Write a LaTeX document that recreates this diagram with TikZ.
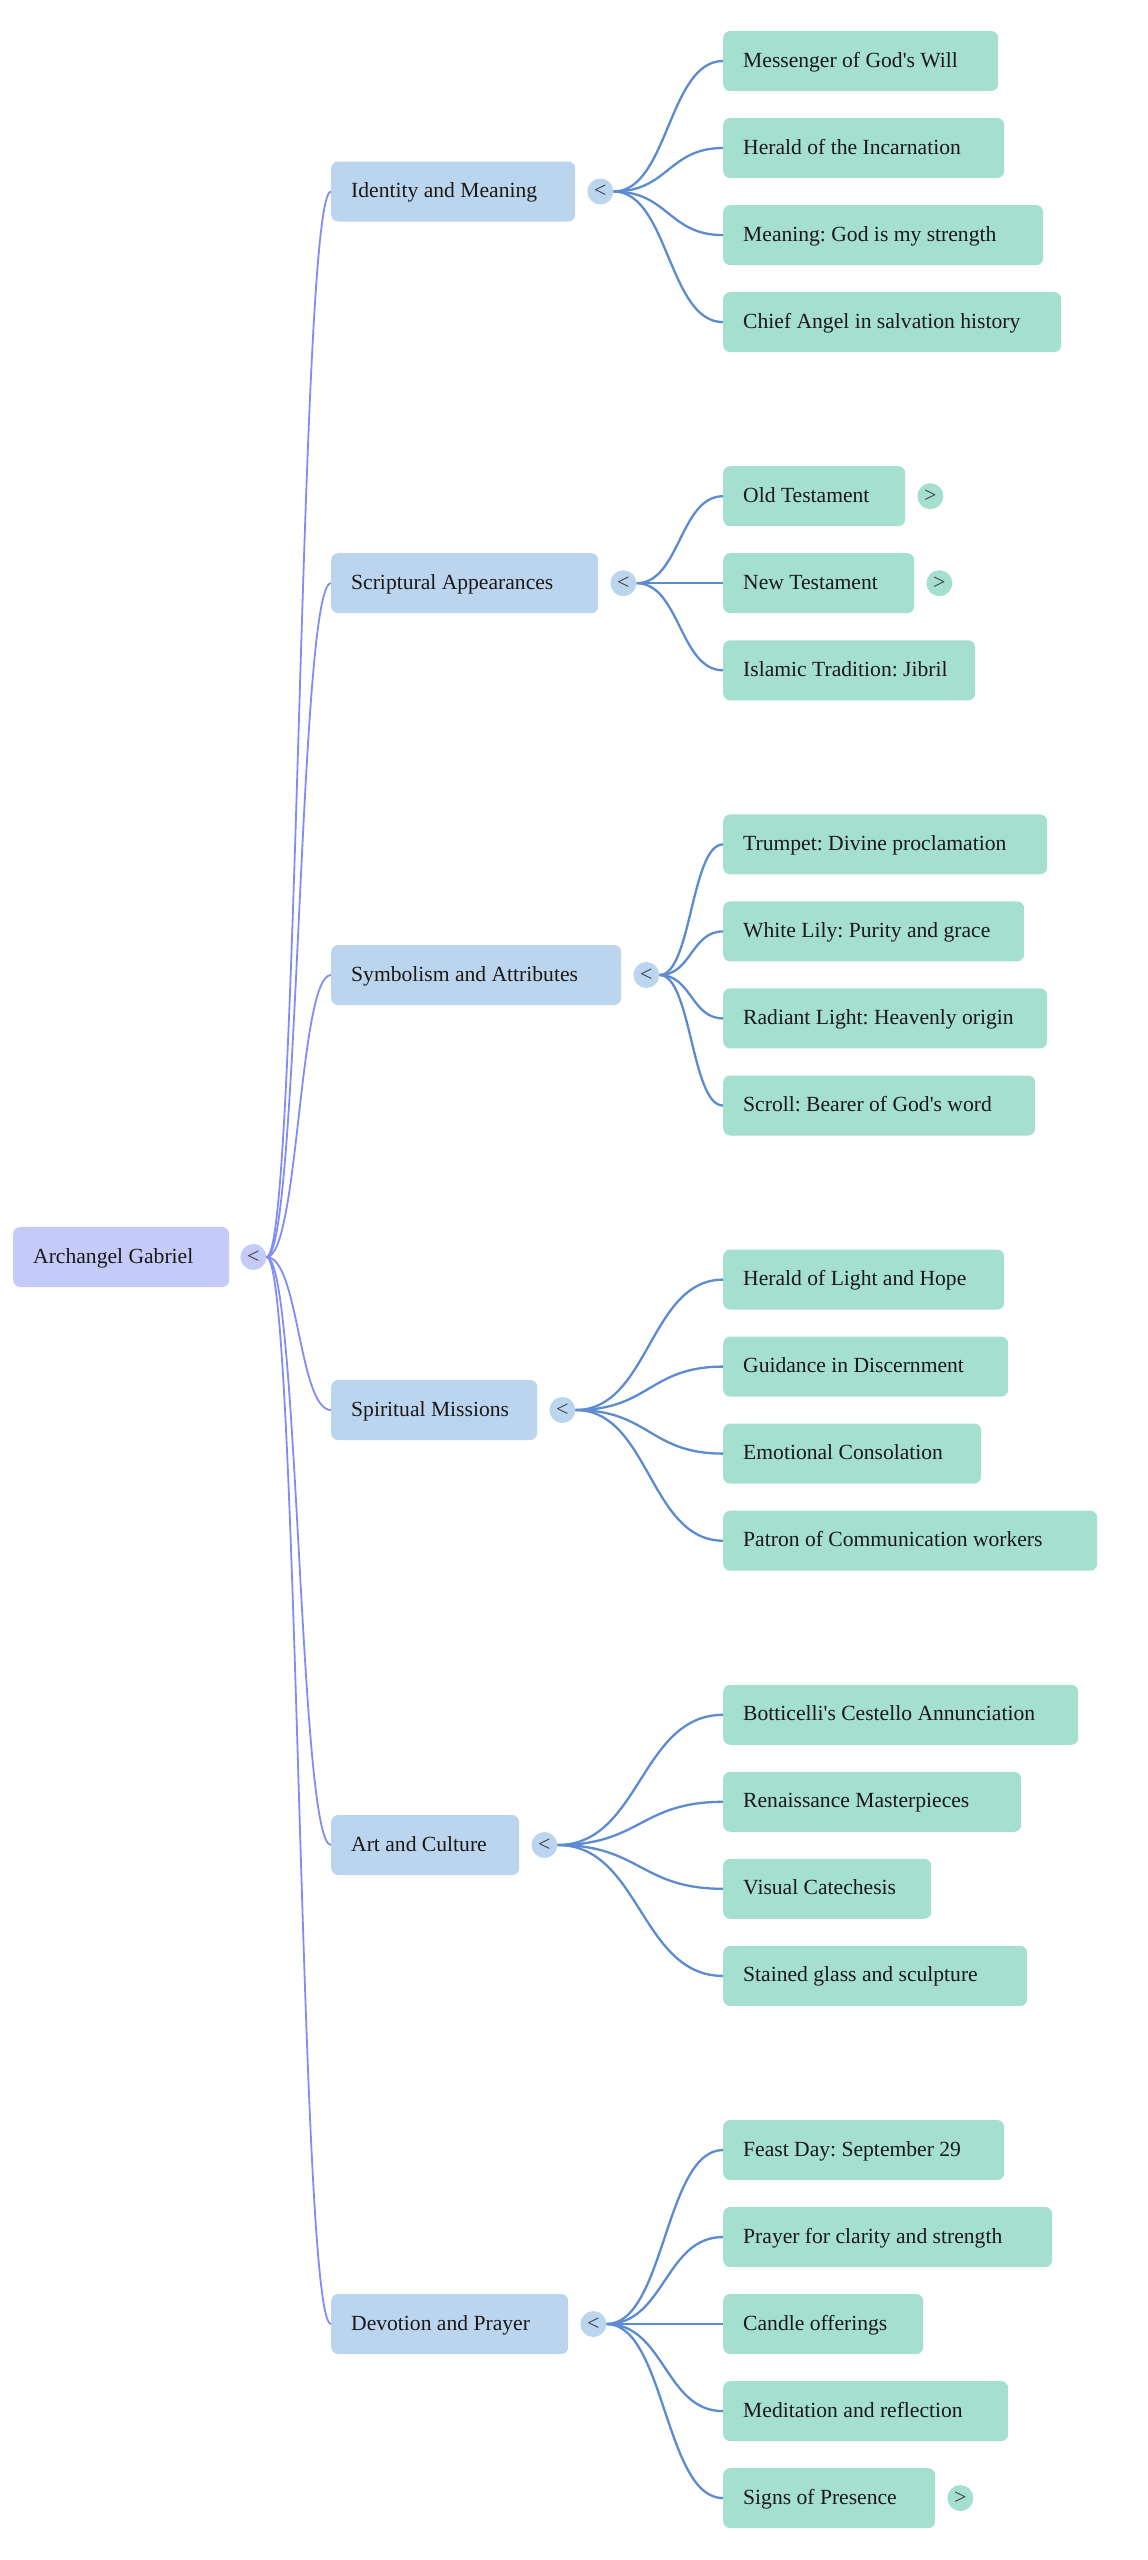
\documentclass[tikz,border=0pt]{standalone}
\usepackage{fontspec}
\setmainfont{Liberation Serif}
\usetikzlibrary{calc}
\definecolor{rootfill}{RGB}{197,203,248}
\definecolor{topicfill}{RGB}{188,213,238}
\definecolor{leaffill}{RGB}{164,223,207}
\definecolor{rootedge}{RGB}{128,141,245}
\definecolor{leafedge}{RGB}{92,139,209}
\definecolor{txt}{RGB}{25,25,25}
\definecolor{knobtxt}{RGB}{55,55,55}
\frenchspacing
\newcommand\mmfont{\fontsize{21.6}{26}\selectfont}
\newcommand\knobfont{\fontsize{22}{26}\selectfont}
\newcommand\bx[2]{\makebox[\dimexpr#1pt-40pt\relax][l]{#2}}
\newcommand\mmlink[3]{\draw[#3] let \p1=(#1), \p2=(#2) in (\p1) .. controls ({(\x1+\x2)/2},\y1) and ({(\x1+\x2)/2},\y2) .. (\p2);}
\tikzset{
  box/.style={rounded corners=7pt, inner xsep=20pt, inner ysep=0pt, minimum height=60pt,
    text height=16pt, text depth=4pt, anchor=west, text=txt, font=\mmfont},
  rootbox/.style={box, fill=rootfill},
  topic/.style={box, fill=topicfill},
  leaf/.style={box, fill=leaffill},
  knob/.style={circle, minimum size=26pt, inner sep=0pt, font=\knobfont, text=knobtxt},
  rootlink/.style={draw=rootedge, line width=1.8pt},
  leaflink/.style={draw=leafedge, line width=2.3pt},
}
\begin{document}
\begin{tikzpicture}[x=1pt,y=-1pt]
\useasboundingbox (0,0) rectangle (1148,2560);
% root
\node[rootbox] (root) at (13,1257) {\bx{216}{Archangel Gabriel}};
\node[knob, fill=rootfill] (k0) at ([xshift=24pt]root.east) {<};
% topics
\node[topic] (t1) at (331,191.5) {\bx{244}{Identity and Meaning}};
\node[topic] (t2) at (331,583.2) {\bx{267}{Scriptural Appearances}};
\node[topic] (t3) at (331,975) {\bx{290}{Symbolism and Attributes}};
\node[topic] (t4) at (331,1410) {\bx{206}{Spiritual Missions}};
\node[topic] (t5) at (331,1845) {\bx{188}{Art and Culture}};
\node[topic] (t6) at (331,2324) {\bx{237}{Devotion and Prayer}};
\foreach \i in {1,...,6}{\node[knob, fill=topicfill] (kt\i) at ([xshift=25pt]t\i.east) {<};}
% leaves group 1
\node[leaf] (a1) at (723,61) {\bx{275}{Messenger of God\textquotesingle s Will}};
\node[leaf] (a2) at (723,148) {\bx{281}{Herald of the Incarnation}};
\node[leaf] (a3) at (723,235.1) {\bx{320}{Meaning: God is my strength}};
\node[leaf] (a4) at (723,322.1) {\bx{338}{Chief Angel in salvation history}};
% group 2
\node[leaf] (b1) at (723,496.2) {\bx{182}{Old Testament}};
\node[leaf] (b2) at (723,583.2) {\bx{191}{New Testament}};
\node[leaf] (b3) at (723,670.3) {\bx{252}{Islamic Tradition: Jibril}};
\node[knob, fill=leaffill] (kb1) at ([xshift=25pt]b1.east) {>};
\node[knob, fill=leaffill] (kb2) at ([xshift=25pt]b2.east) {>};
% group 3
\node[leaf] (c1) at (723,844.4) {\bx{324}{Trumpet: Divine proclamation}};
\node[leaf] (c2) at (723,931.4) {\bx{301}{White Lily: Purity and grace}};
\node[leaf] (c3) at (723,1018.4) {\bx{324}{Radiant Light: Heavenly origin}};
\node[leaf] (c4) at (723,1105.5) {\bx{312}{Scroll: Bearer of God\textquotesingle s word}};
% group 4
\node[leaf] (d1) at (723,1279.6) {\bx{281}{Herald of Light and Hope}};
\node[leaf] (d2) at (723,1366.6) {\bx{285}{Guidance in Discernment}};
\node[leaf] (d3) at (723,1453.6) {\bx{258}{Emotional Consolation}};
\node[leaf] (d4) at (723,1540.7) {\bx{374}{Patron of Communication workers}};
% group 5
\node[leaf] (e1) at (723,1714.8) {\bx{355}{Botticelli\textquotesingle s Cestello Annunciation}};
\node[leaf] (e2) at (723,1801.8) {\bx{298}{Renaissance Masterpieces}};
\node[leaf] (e3) at (723,1888.8) {\bx{208}{Visual Catechesis}};
\node[leaf] (e4) at (723,1975.9) {\bx{304}{Stained glass and sculpture}};
% group 6
\node[leaf] (f1) at (723,2150) {\bx{281}{Feast Day: September 29}};
\node[leaf] (f2) at (723,2237) {\bx{329}{Prayer for clarity and strength}};
\node[leaf] (f3) at (723,2324) {\bx{200}{Candle offerings}};
\node[leaf] (f4) at (723,2411.1) {\bx{285}{Meditation and reflection}};
\node[leaf] (f5) at (723,2498.1) {\bx{212}{Signs of Presence}};
\node[knob, fill=leaffill] (kf5) at ([xshift=25pt]f5.east) {>};
% links root -> topics
\foreach \i in {1,...,6}{\mmlink{k0.east}{t\i.west}{rootlink}}
% links topics -> leaves
\foreach \j in {1,...,4}{\mmlink{kt1.east}{a\j.west}{leaflink}}
\foreach \j in {1,...,3}{\mmlink{kt2.east}{b\j.west}{leaflink}}
\foreach \j in {1,...,4}{\mmlink{kt3.east}{c\j.west}{leaflink}}
\foreach \j in {1,...,4}{\mmlink{kt4.east}{d\j.west}{leaflink}}
\foreach \j in {1,...,4}{\mmlink{kt5.east}{e\j.west}{leaflink}}
\foreach \j in {1,...,5}{\mmlink{kt6.east}{f\j.west}{leaflink}}
\end{tikzpicture}
\end{document}
